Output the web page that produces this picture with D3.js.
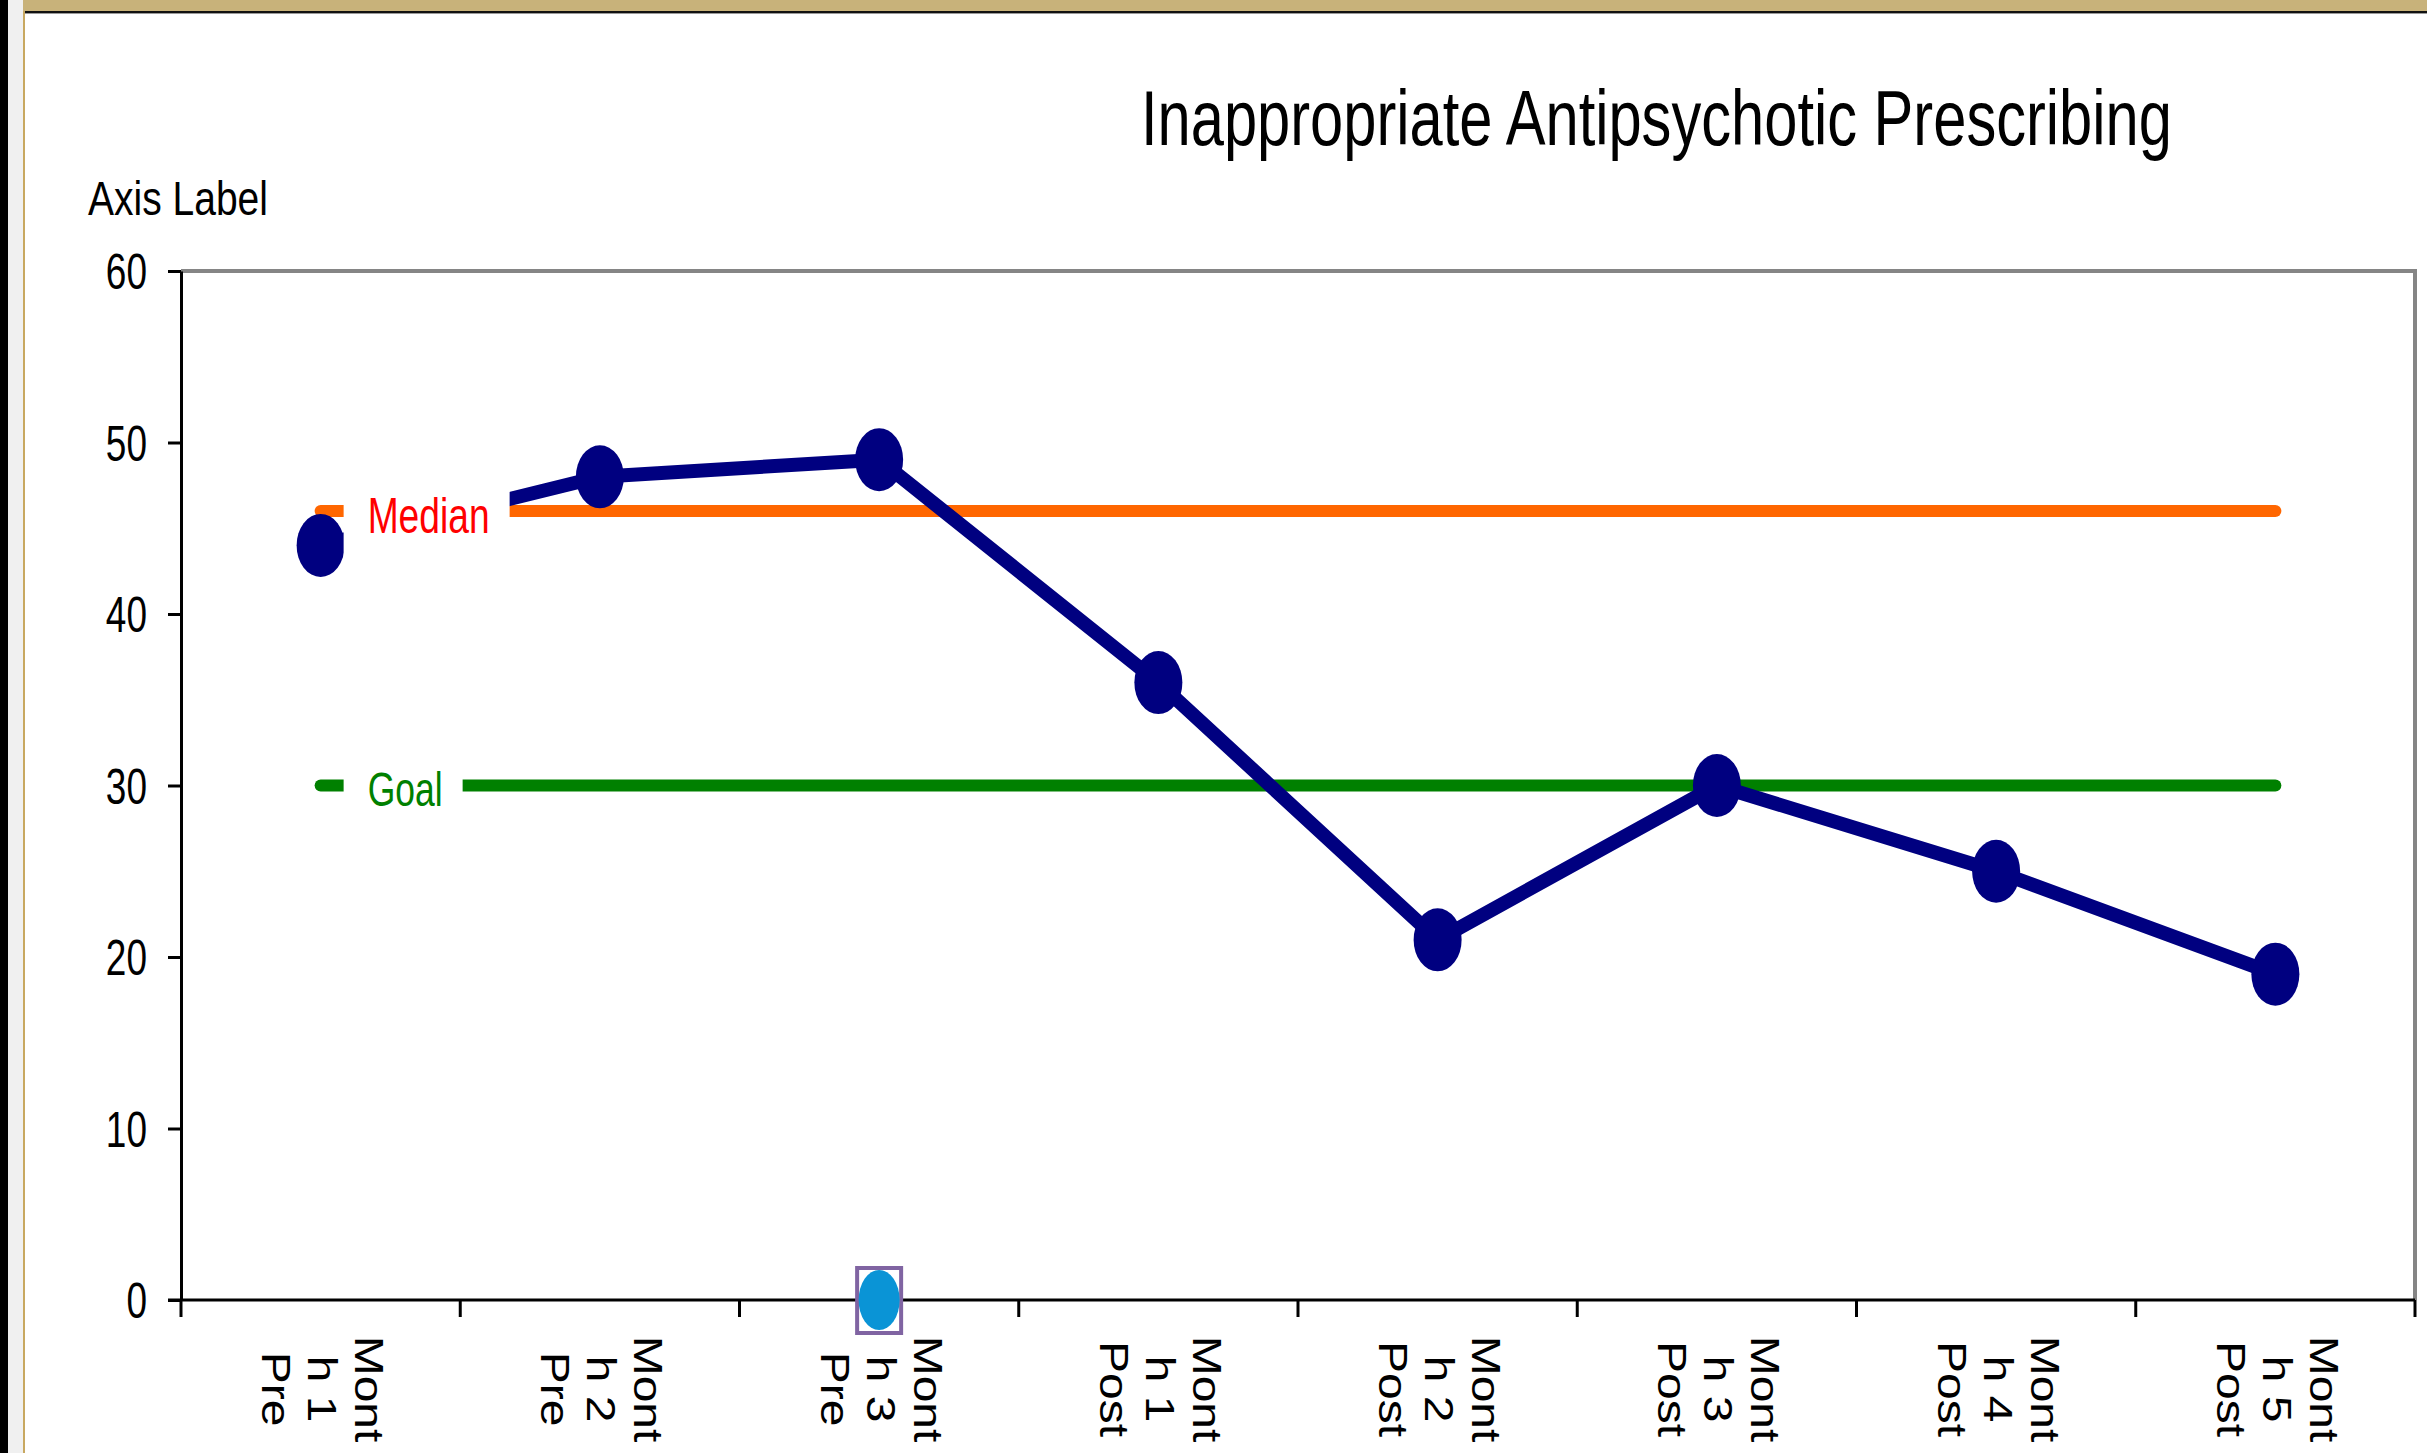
<!DOCTYPE html>
<html>
<head>
<meta charset="utf-8">
<script src="https://cdn.jsdelivr.net/npm/d3@7"></script>
<style>
  html, body { margin: 0; padding: 0; background: #fff; }
  svg { display: block; }
  text { font-family: "Liberation Sans", Arial, sans-serif; }
</style>
</head>
<body>
<script>
// ---- data ----
const categories = ["Month 1 Pre", "Month 2 Pre", "Month 3 Pre", "Month 1 Post",
                    "Month 2 Post", "Month 3 Post", "Month 4 Post", "Month 5 Post"];
const values = [44, 48, 49, 36, 21, 30, 25, 19];
const medianValues = [46, 46, 46, 46, 46, 46, 46, 46];
const goalValues = [30, 30, 30, 30, 30, 30, 30, 30];
const highlightCategories = ["Month 3 Pre"];
const highlightValues = [0];
const yTicks = [0, 10, 20, 30, 40, 50, 60];
const titleText = "Inappropriate Antipsychotic Prescribing";
const yAxisTitle = "Axis Label";
const medianLabel = "Median";
const goalLabel = "Goal";

// ---- layout ----
const W = 2427, H = 1453;
const plot = { left: 181, right: 2415, top: 271, bottom: 1300 };

const svg = d3.select("body").append("svg").attr("width", W).attr("height", H);

// window frame
svg.append("rect").attr("x", 0).attr("y", 0).attr("width", W).attr("height", H).attr("fill", "#ffffff");
svg.append("rect").attr("x", 0).attr("y", 0).attr("width", 8).attr("height", H).attr("fill", "#000000");
svg.append("rect").attr("x", 8).attr("y", 0).attr("width", 15).attr("height", H).attr("fill", "#f0f0f0");
svg.append("rect").attr("x", 23).attr("y", 0).attr("width", W - 23).attr("height", 11).attr("fill", "#c8b27a");
svg.append("rect").attr("x", 23).attr("y", 11).attr("width", W - 23).attr("height", 2).attr("fill", "#111111");
svg.append("rect").attr("x", 23).attr("y", 13).attr("width", W - 23).attr("height", 1).attr("fill", "#9a9a9a");
svg.append("rect").attr("x", 23).attr("y", 11).attr("width", 2).attr("height", H - 11).attr("fill", "#c8a860");

// helper: horizontally condensed text fitted to a given width
function fitText(sel, width) {
  const node = sel.node();
  const natural = node.getComputedTextLength();
  const k = width / natural;
  const tx = +sel.attr("data-x"), ty = +sel.attr("data-y");
  sel.attr("transform", `translate(${tx},${ty}) scale(${k},1)`);
  return sel;
}

// scales
const x = d3.scaleBand().domain(categories).range([plot.left, plot.right]).padding(0);
const y = d3.scaleLinear().domain([0, 60]).range([plot.bottom, plot.top]);
const cx = d => x(d) + x.bandwidth() / 2;

// plot border (top & right gray)
svg.append("path")
  .attr("d", `M${plot.left},${plot.top}H${plot.right}V${plot.bottom}`)
  .attr("fill", "none").attr("stroke", "#858585").attr("stroke-width", 4);

// title
fitText(svg.append("text").attr("data-x", 1141).attr("data-y", 145)
  .attr("font-size", 77).attr("fill", "#000").text(titleText), 1031);

// y axis title
fitText(svg.append("text").attr("data-x", 88).attr("data-y", 215)
  .attr("font-size", 48).attr("fill", "#000").text(yAxisTitle), 180);

// y axis
const yAxis = svg.append("g").attr("transform", `translate(${plot.left},0)`)
  .call(d3.axisLeft(y).tickValues(yTicks).tickSize(13).tickSizeOuter(0));
yAxis.select(".domain").attr("stroke", "#000").attr("stroke-width", 3);
yAxis.selectAll(".tick line").attr("stroke", "#000").attr("stroke-width", 3);
yAxis.selectAll(".tick text")
  .attr("x", 0).attr("dy", "0.35em")
  .attr("transform", "translate(-34,0) scale(0.74,1)")
  .attr("font-size", 50).attr("fill", "#000")
  .attr("font-family", "Liberation Sans, Arial, sans-serif");

// x axis
const xAxis = svg.append("g").attr("transform", `translate(0,${plot.bottom})`)
  .call(d3.axisBottom(x).tickSize(0).tickSizeOuter(0).tickFormat(""));
xAxis.select(".domain").attr("stroke", "#000").attr("stroke-width", 3)
  .attr("d", `M${plot.left - 13},0H${plot.right}`);
xAxis.selectAll(".tick").remove();
const boundaries = categories.map(d => x(d)).concat([x(categories[categories.length - 1]) + x.bandwidth()]);
xAxis.selectAll("line.bound").data(boundaries).join("line").attr("class", "bound")
  .attr("x1", d => d).attr("x2", d => d).attr("y1", 0).attr("y2", 17)
  .attr("stroke", "#000").attr("stroke-width", 3);

// x labels (wrapped & rotated)
function wrapLabel(s) {
  const w = s.split(" ");
  return [w[0].slice(0, 4), w[0].slice(4) + " " + w[1], w[2]];
}
const lineOffsets = [34.5, -12.6, -58.6];
const labelG = svg.append("g");
categories.forEach(c => {
  wrapLabel(c).forEach((ln, i) => {
    labelG.append("text")
      .attr("transform", `translate(${cx(c) + lineOffsets[i]},1389) rotate(90) scale(1,0.85)`)
      .attr("text-anchor", "middle")
      .attr("font-size", 48).attr("fill", "#000")
      .text(ln);
  });
});

// median & goal lines
const refLine = d3.line().x((d, i) => cx(categories[i])).y(d => y(d));
svg.append("path").datum(medianValues).attr("d", refLine)
  .attr("fill", "none").attr("stroke", "#ff6600").attr("stroke-width", 12).attr("stroke-linecap", "round");
svg.append("path").datum(goalValues).attr("d", refLine)
  .attr("fill", "none").attr("stroke", "#008000").attr("stroke-width", 12).attr("stroke-linecap", "round");

// main series
svg.append("path").datum(values).attr("d", refLine)
  .attr("fill", "none").attr("stroke", "#000080").attr("stroke-width", 14)
  .attr("stroke-linejoin", "round");
svg.selectAll("ellipse.pt").data(values).join("ellipse").attr("class", "pt")
  .attr("cx", (d, i) => cx(categories[i])).attr("cy", d => y(d))
  .attr("rx", 24).attr("ry", 31.5).attr("fill", "#000080");

// labels with white boxes
function refLabel(txt, val, len, color, fs, dyBase, boxTop, boxBottom) {
  const x0 = cx(categories[0]) + 47;
  svg.append("rect").attr("x", x0 - 24).attr("y", y(val) - boxTop)
    .attr("width", len + 44).attr("height", boxTop + boxBottom).attr("fill", "#fff");
  fitText(svg.append("text").attr("data-x", x0).attr("data-y", y(val) + dyBase)
    .attr("font-size", fs).attr("fill", color).text(txt), len);
}
refLabel(medianLabel, medianValues[0], 122, "#ff0000", 50, 22, 42, 48);
refLabel(goalLabel, goalValues[0], 75, "#008000", 48, 20.5, 30, 30);

// highlighted (selected) point
highlightCategories.forEach((c, i) => {
  const hx = cx(c), hy = y(highlightValues[i]);
  svg.append("rect").attr("x", hx - 22).attr("y", hy - 32).attr("width", 44).attr("height", 65)
    .attr("fill", "#fff").attr("stroke", "#8064a2").attr("stroke-width", 4);
  svg.append("ellipse").attr("cx", hx).attr("cy", hy).attr("rx", 20.5).attr("ry", 30)
    .attr("fill", "#0a94d6");
});
</script>
</body>
</html>
